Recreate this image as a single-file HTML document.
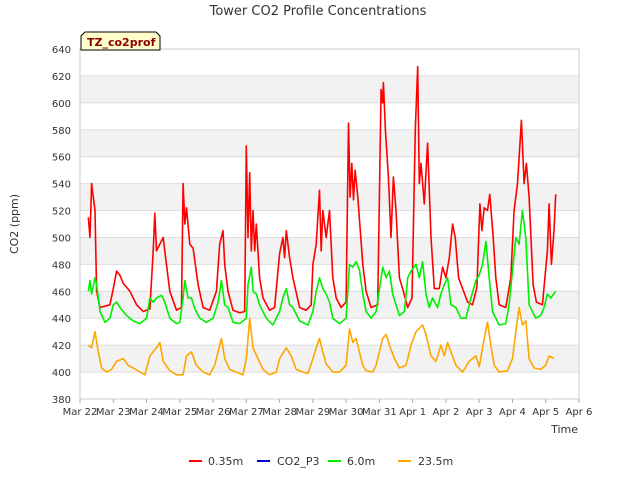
<!DOCTYPE html>
<html><head><meta charset="utf-8"><style>
body{margin:0;background:#fff;font-family:"Liberation Sans",sans-serif}
svg text{font-family:"DejaVu Sans","Liberation Sans",sans-serif}
</style></head><body>
<svg id="chart" width="640" height="480">
<text x="318" y="15" text-anchor="middle" font-size="13" fill="#333">Tower CO2 Profile Concentrations</text>
<g id="plot"></g>
<g>
<path d="M81,50 L81,36 L85,32 L156,32 L160,36 L160,50 Z" fill="#ffffcc" stroke="#000" stroke-width="1"/>
<text x="87" y="46" font-size="11" font-weight="bold" fill="#8b0000">TZ_co2prof</text>
</g>
<text x="18" y="224" transform="rotate(-90 18 224)" text-anchor="middle" font-size="11" fill="#333">CO2 (ppm)</text>
<text x="578" y="433" text-anchor="end" font-size="11" fill="#333">Time</text>
<g font-size="11" fill="#333">
<g><line x1="189" y1="461" x2="202" y2="461" stroke="#ff0000" stroke-width="2"/><text x="208" y="465">0.35m</text></g>
<g><line x1="257" y1="461" x2="270" y2="461" stroke="#0000cc" stroke-width="2"/><text x="277" y="465">CO2_P3</text></g>
<g><line x1="328" y1="461" x2="341" y2="461" stroke="#00ee00" stroke-width="2"/><text x="347" y="465">6.0m</text></g>
<g><line x1="398" y1="461" x2="411" y2="461" stroke="#ffa500" stroke-width="2"/><text x="418" y="465">23.5m</text></g>
</g>
</svg>
<script>
const yTicks=[380,400,420,440,460,480,500,520,540,560,580,600,620,640];
const xTickLabels=["Mar 22","Mar 23","Mar 24","Mar 25","Mar 26","Mar 27","Mar 28","Mar 29","Mar 30","Mar 31","Apr 1","Apr 2","Apr 3","Apr 4","Apr 5","Apr 6"];
const red=[[0.25,515],[0.3,500],[0.35,540],[0.45,520],[0.5,460],[0.6,448],[0.9,450],[1.0,462],[1.1,475],[1.2,472],[1.3,466],[1.5,460],[1.7,450],[1.9,445],[2.1,447],[2.2,490],[2.25,518],[2.3,490],[2.4,495],[2.5,500],[2.55,490],[2.7,460],[2.9,446],[3.05,448],[3.1,540],[3.15,510],[3.2,522],[3.3,495],[3.4,492],[3.55,465],[3.7,448],[3.9,446],[4.1,460],[4.2,495],[4.3,505],[4.35,480],[4.45,460],[4.6,446],[4.8,444],[4.95,445],[5.0,568],[5.05,500],[5.1,548],[5.15,490],[5.2,520],[5.25,490],[5.3,510],[5.4,470],[5.5,455],[5.7,446],[5.85,448],[6.0,488],[6.1,500],[6.15,485],[6.2,505],[6.3,485],[6.4,470],[6.6,448],[6.8,446],[6.95,450],[7.0,480],[7.1,495],[7.2,535],[7.25,490],[7.3,520],[7.4,500],[7.5,520],[7.6,470],[7.7,455],[7.85,448],[8.0,452],[8.07,585],[8.12,530],[8.17,555],[8.22,528],[8.27,550],[8.35,530],[8.5,480],[8.6,460],[8.75,448],[8.95,450],[9.05,610],[9.1,600],[9.12,615],[9.18,580],[9.27,545],[9.35,500],[9.42,545],[9.5,520],[9.6,470],[9.72,460],[9.85,448],[9.98,455],[10.08,580],[10.15,627],[10.2,540],[10.25,555],[10.35,525],[10.45,570],[10.55,500],[10.65,462],[10.8,462],[10.9,478],[11.0,470],[11.1,485],[11.2,510],[11.28,500],[11.38,470],[11.5,462],[11.65,452],[11.8,450],[11.93,463],[12.02,525],[12.08,505],[12.15,522],[12.25,520],[12.32,532],[12.42,500],[12.5,470],[12.6,450],[12.8,448],[12.95,470],[13.05,520],[13.15,540],[13.27,587],[13.35,540],[13.42,555],[13.5,530],[13.62,465],[13.72,452],[13.9,450],[14.05,490],[14.1,525],[14.17,480],[14.25,505],[14.3,532]];
const green=[[0.25,460],[0.3,468],[0.35,458],[0.45,470],[0.5,465],[0.6,445],[0.75,437],[0.9,440],[1.0,450],[1.1,452],[1.2,448],[1.4,442],[1.6,438],[1.8,436],[2.0,440],[2.1,455],[2.2,452],[2.3,455],[2.45,457],[2.55,452],[2.7,440],[2.9,436],[3.0,437],[3.1,455],[3.15,468],[3.25,455],[3.35,455],[3.45,447],[3.6,440],[3.8,437],[4.0,440],[4.15,452],[4.25,468],[4.35,450],[4.45,448],[4.6,437],[4.8,436],[5.0,440],[5.05,465],[5.15,478],[5.2,460],[5.3,458],[5.4,450],[5.6,440],[5.8,435],[6.0,445],[6.1,455],[6.2,462],[6.3,450],[6.4,448],[6.6,438],[6.85,435],[7.0,445],[7.1,460],[7.2,470],[7.3,462],[7.4,458],[7.5,452],[7.6,440],[7.8,436],[8.0,440],[8.1,480],[8.2,478],[8.3,482],[8.4,476],[8.5,458],[8.6,445],[8.75,440],[8.9,445],[9.1,478],[9.2,470],[9.3,475],[9.4,458],[9.5,450],[9.6,442],[9.75,445],[9.85,470],[9.95,475],[10.1,480],[10.2,470],[10.3,482],[10.4,458],[10.5,448],[10.6,455],[10.75,448],[10.85,458],[10.95,465],[11.05,470],[11.15,450],[11.3,448],[11.45,440],[11.6,440],[11.75,455],[11.9,468],[12.0,472],[12.1,480],[12.2,497],[12.3,470],[12.4,445],[12.6,435],[12.8,436],[12.9,450],[13.0,475],[13.1,500],[13.2,495],[13.3,520],[13.4,500],[13.5,450],[13.7,440],[13.85,442],[13.95,448],[14.05,458],[14.15,455],[14.3,460]];
const orange=[[0.25,420],[0.35,418],[0.45,430],[0.55,415],[0.65,403],[0.8,400],[0.95,402],[1.1,408],[1.3,410],[1.45,405],[1.6,403],[1.8,400],[1.95,398],[2.1,412],[2.3,418],[2.4,422],[2.5,408],[2.7,401],[2.9,398],[3.1,398],[3.2,412],[3.35,415],[3.5,405],[3.7,400],[3.9,398],[4.05,405],[4.25,425],[4.35,410],[4.5,402],[4.7,400],[4.9,398],[5.0,410],[5.1,440],[5.2,418],[5.35,410],[5.5,402],[5.7,398],[5.9,400],[6.0,410],[6.2,418],[6.35,412],[6.5,402],[6.7,400],[6.85,399],[7.0,410],[7.1,418],[7.2,425],[7.3,415],[7.4,406],[7.6,400],[7.8,400],[8.0,405],[8.1,432],[8.2,422],[8.3,425],[8.4,415],[8.5,405],[8.6,401],[8.8,400],[8.9,405],[9.1,425],[9.2,428],[9.3,420],[9.45,410],[9.6,403],[9.8,405],[9.95,420],[10.1,430],[10.3,435],[10.4,428],[10.55,412],[10.7,408],[10.85,420],[10.95,412],[11.05,422],[11.15,415],[11.3,405],[11.5,400],[11.7,408],[11.9,412],[12.0,404],[12.15,425],[12.25,437],[12.35,420],[12.45,405],[12.6,400],[12.85,401],[13.0,410],[13.1,430],[13.2,448],[13.3,435],[13.4,438],[13.5,410],[13.65,403],[13.85,402],[14.0,405],[14.1,412],[14.25,410]];
const X0=80,X1=579,Y0=399,Y1=49;
const xs=d=>X0+(X1-X0)*d/15;
const ys=v=>Y0-(Y0-Y1)*(v-380)/260;
const NS="http://www.w3.org/2000/svg";
const plot=document.getElementById('plot');
function mk(t,a){const e=document.createElementNS(NS,t);for(const k in a)e.setAttribute(k,a[k]);plot.appendChild(e);return e;}
for(let i=0;i<yTicks.length-1;i++){
  if(i%2===1){const r=mk('rect',{x:X0,y:ys(yTicks[i+1]),width:X1-X0,height:ys(yTicks[i])-ys(yTicks[i+1]),fill:'#f2f2f2'});
  
  }
}
yTicks.forEach(v=>{
  const l=mk('line',{x1:X0,x2:X1,y1:ys(v),y2:ys(v),stroke:'#dddddd'});
  
  
  const t=mk('text',{x:X0-9,y:ys(v)+4,'text-anchor':'end','font-size':'10',fill:'#333'});
  t.textContent=v;
  
  
});
const fr=mk('rect',{x:X0,y:Y1,width:X1-X0,height:Y0-Y1,fill:'none',stroke:'#cccccc'});


xTickLabels.forEach((s,i)=>{
  const l=mk('line',{x1:xs(i),x2:xs(i),y1:Y0,y2:Y0+4,stroke:'#aaa'});
  
  
  const t=mk('text',{x:xs(i),y:Y0+16,'text-anchor':'middle','font-size':'10',fill:'#333'});
  t.textContent=s;
  
  
});
function line(data,color,name){
  const p=mk('polyline',{points:data.map(d=>xs(d[0]).toFixed(1)+','+ys(d[1]).toFixed(1)).join(' '),fill:'none',stroke:color,'stroke-width':'1.6','stroke-linejoin':'round'});
  
  
}
line(red,'#ff0000','series-0.35m');
line(green,'#00ee00','series-6.0m');
line(orange,'#ffa500','series-23.5m');
</script>
</body></html>
